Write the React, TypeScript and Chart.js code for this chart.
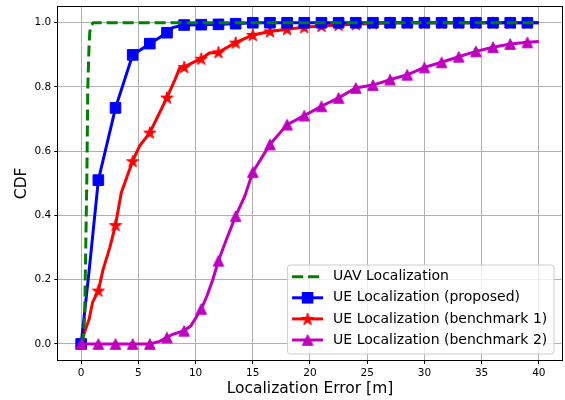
import React, { useEffect, useRef } from 'react';
import { Chart, registerables } from 'chart.js';

Chart.register(...registerables);

// ---- data ----
const xTicks = [0, 5, 10, 15, 20, 25, 30, 35, 40];
const yTicks = [0, 0.2, 0.4, 0.6, 0.8, 1.0];

const seriesLabels = [
  'UAV Localization',
  'UE Localization (proposed)',
  'UE Localization (benchmark 1)',
  'UE Localization (benchmark 2)',
];

const uavX = [0, 0.15, 0.3, 0.4, 0.5, 0.58, 0.68, 0.75, 0.85, 1.05, 40];
const uavY = [0, 0.01, 0.08, 0.3, 0.53, 0.8, 0.92, 0.97, 0.99, 1, 1];

const propX = [0, 0.7, 1.5, 3, 4.5, 6, 7.5, 8, 9, 10.5, 12, 13.5, 15, 16.5, 18, 19.5, 21, 22.5, 24, 25.5, 27, 28.5, 30, 31.5, 33, 34.5, 36, 37.5, 39, 40];
const propY = [0, 0.23, 0.51, 0.735, 0.9, 0.935, 0.969, 0.985, 0.993, 0.994, 0.995, 0.997, 1, 1, 1, 1, 1, 1, 1, 1, 1, 1, 1, 1, 1, 1, 1, 1, 1, 1];

const bench1X = [0, 0.3, 0.7, 1.0, 1.5, 1.9, 2.5, 3.0, 3.5, 4.2, 4.5, 5.1, 6.0, 6.7, 7.5, 8.2, 8.6, 9.0, 9.7, 10.5, 11.2, 12, 13.5, 15, 16.5, 18, 19.5, 21, 22.5, 24, 25.5, 27, 28.5, 30, 31.5, 33, 34.5, 36, 37.5, 39, 40];
const bench1Y = [0, 0.037, 0.078, 0.13, 0.166, 0.23, 0.30, 0.37, 0.47, 0.54, 0.569, 0.616, 0.658, 0.709, 0.767, 0.823, 0.858, 0.862, 0.875, 0.888, 0.906, 0.908, 0.938, 0.962, 0.973, 0.98, 0.986, 0.99, 0.993, 0.995, 0.998, 1, 1, 1, 1, 1, 1, 1, 1, 1, 1];

const bench2X = [0, 1.5, 3, 4.5, 6, 6.85, 7.5, 8, 9, 9.6, 10.5, 11, 11.5, 12, 12.7, 13.5, 14.3, 15, 16.5, 18, 19.5, 21, 22.5, 24, 25.5, 27, 28.5, 30, 31.5, 33, 34.5, 36, 37.5, 39, 40];
const bench2Y = [0, 0, 0, 0, 0, 0.008, 0.02, 0.03, 0.041, 0.057, 0.109, 0.15, 0.2, 0.259, 0.326, 0.398, 0.46, 0.535, 0.621, 0.683, 0.711, 0.74, 0.766, 0.797, 0.806, 0.823, 0.838, 0.861, 0.877, 0.894, 0.911, 0.924, 0.934, 0.939, 0.942];

// ---- styles ----
const MARK_STEP = 1.5;
const FONT = 'DejaVu Sans';
const GREEN = '#008000';
const BLUE = '#0000ff';
const RED = '#ff0000';
const MAGENTA = '#bf00bf';
const GRID = '#b0b0b0';

const isMark = (x: number) => {
  const q = x / MARK_STEP;
  return Math.abs(q - Math.round(q)) < 1e-6;
};

function makeStar(color: string, R: number) {
  const size = 16;
  const c = document.createElement('canvas');
  c.width = size;
  c.height = size;
  const g = c.getContext('2d')!;
  const cx = size / 2, cy = size / 2 + 0.5;
  const r = R * 0.381966;
  g.beginPath();
  for (let i = 0; i < 10; i++) {
    const ang = -Math.PI / 2 + (i * Math.PI) / 5;
    const rad = i % 2 === 0 ? R : r;
    g.lineTo(cx + rad * Math.cos(ang), cy + rad * Math.sin(ang));
  }
  g.closePath();
  g.fillStyle = color;
  g.fill();
  g.strokeStyle = color;
  g.lineWidth = 1;
  g.stroke();
  return c;
}

function makeTriangle(color: string, half: number) {
  const size = 14;
  const c = document.createElement('canvas');
  c.width = size;
  c.height = size;
  const g = c.getContext('2d')!;
  const cx = size / 2, cy = size / 2;
  g.beginPath();
  g.moveTo(cx, cy - half);
  g.lineTo(cx - half, cy + half);
  g.lineTo(cx + half, cy + half);
  g.closePath();
  g.fillStyle = color;
  g.fill();
  g.strokeStyle = color;
  g.lineWidth = 1;
  g.stroke();
  return c;
}

const pts = (xs: number[], ys: number[]) => xs.map((x, i) => ({ x, y: ys[i] }));

const zeroPad = (s: any) => {
  s.paddingLeft = 0;
  s.paddingRight = 0;
  s.paddingTop = 0;
  s.paddingBottom = 0;
};

export default function App() {
  const ref = useRef<HTMLCanvasElement | null>(null);

  useEffect(() => {
    const canvas = ref.current;
    if (!canvas) return;
    const star = makeStar(RED, 6.5);
    const tri = makeTriangle(MAGENTA, 5.3);
    const SQ_R = 7.5;

    const legendPlugin = {
      id: 'mplLegend',
      afterDraw(chart: any) {
        const ctx = chart.ctx as CanvasRenderingContext2D;
        const ca = chart.chartArea;
        ctx.save();
        ctx.font = `14px "${FONT}"`;
        let maxW = 0;
        seriesLabels.forEach((t) => (maxW = Math.max(maxW, ctx.measureText(t).width)));
        const w = 45.7 + maxW + 6.7;
        const h = 89;
        const right = ca.right - 7.7;
        const bottom = ca.bottom - 6;
        const left = right - w;
        const top = bottom - h;
        const rr = 3;
        ctx.beginPath();
        ctx.moveTo(left + rr, top);
        ctx.lineTo(right - rr, top);
        ctx.arcTo(right, top, right, top + rr, rr);
        ctx.lineTo(right, bottom - rr);
        ctx.arcTo(right, bottom, right - rr, bottom, rr);
        ctx.lineTo(left + rr, bottom);
        ctx.arcTo(left, bottom, left, bottom - rr, rr);
        ctx.lineTo(left, top + rr);
        ctx.arcTo(left, top, left + rr, top, rr);
        ctx.closePath();
        ctx.fillStyle = 'rgba(255,255,255,0.8)';
        ctx.fill();
        ctx.strokeStyle = '#cccccc';
        ctx.lineWidth = 1;
        ctx.stroke();

        const colors = [GREEN, BLUE, RED, MAGENTA];
        seriesLabels.forEach((t, i) => {
          const y = top + 11.7 + i * 21.1;
          const x0 = left + 4.7;
          const x1 = left + 35.7;
          const xm = (x0 + x1) / 2;
          ctx.beginPath();
          ctx.strokeStyle = colors[i];
          ctx.lineWidth = 3;
          ctx.setLineDash(i === 0 ? [11, 5] : []);
          ctx.moveTo(x0, y);
          ctx.lineTo(x1, y);
          ctx.stroke();
          ctx.setLineDash([]);
          if (i === 1) {
            const s = SQ_R * Math.SQRT1_2;
            ctx.fillStyle = BLUE;
            ctx.fillRect(xm - s - 0.5, y - s - 0.5, 2 * s + 1, 2 * s + 1);
          } else if (i === 2) {
            ctx.drawImage(star, xm - star.width / 2, y - star.height / 2);
          } else if (i === 3) {
            ctx.drawImage(tri, xm - tri.width / 2, y - tri.height / 2);
          }
          ctx.fillStyle = '#000';
          ctx.textBaseline = 'middle';
          ctx.textAlign = 'left';
          ctx.fillText(t, left + 45.7, y);
        });
        ctx.restore();
      },
      afterDatasetsDraw(chart: any) {
        const ctx = chart.ctx as CanvasRenderingContext2D;
        const ca = chart.chartArea;
        ctx.save();
        ctx.strokeStyle = '#000';
        ctx.lineWidth = 1;
        const l = Math.round(ca.left) - 0.5;
        const t = Math.round(ca.top) - 0.5;
        const r = Math.round(ca.right) + 0.5;
        const b = Math.round(ca.bottom) + 0.5;
        ctx.strokeRect(l, t, r - l, b - t);
        ctx.restore();
      },
    };

    const chart = new Chart(canvas, {
      type: 'line',
      data: {
        datasets: [
          {
            label: seriesLabels[0],
            data: pts(uavX, uavY),
            borderColor: GREEN,
            backgroundColor: GREEN,
            borderWidth: 3,
            borderDash: [11, 5],
            pointRadius: 0,
            tension: 0,
            order: 1,
          },
          {
            label: seriesLabels[1],
            data: pts(propX, propY),
            borderColor: BLUE,
            backgroundColor: BLUE,
            borderWidth: 3,
            pointStyle: 'rect',
            pointRadius: (c: any) => (c.raw && isMark(c.raw.x) ? SQ_R : 0),
            pointBackgroundColor: BLUE,
            pointBorderColor: BLUE,
            pointBorderWidth: 1,
            tension: 0,
            order: 2,
          },
          {
            label: seriesLabels[2],
            data: pts(bench1X, bench1Y),
            borderColor: RED,
            backgroundColor: RED,
            borderWidth: 3,
            pointStyle: star,
            pointRadius: (c: any) => (c.raw && c.raw.x > 0 && isMark(c.raw.x) ? 6 : 0),
            tension: 0,
            order: 3,
          },
          {
            label: seriesLabels[3],
            data: pts(bench2X, bench2Y),
            borderColor: MAGENTA,
            backgroundColor: MAGENTA,
            borderWidth: 3,
            pointStyle: tri,
            pointRadius: (c: any) => (c.raw && isMark(c.raw.x) ? 6 : 0),
            tension: 0,
            order: 0,
          },
        ] as any,
      },
      options: {
        animation: false,
        responsive: false,
        devicePixelRatio: 1,
        events: [],
        layout: { padding: { top: 6.7, right: 3.3, left: 0, bottom: 0 }, autoPadding: false },
        plugins: {
          legend: { display: false },
          tooltip: { enabled: false },
        },
        scales: {
          x: {
            type: 'linear',
            min: -2,
            max: 42,
            afterBuildTicks: (s: any) => {
              s.ticks = xTicks.map((v) => ({ value: v }));
            },
            afterFit: (s: any) => {
              s.height = 40;
              zeroPad(s);
            },
            border: { display: false },
            grid: {
              color: GRID,
              lineWidth: 1,
              tickColor: '#000',
              tickLength: 4,
              tickWidth: 1,
            },
            ticks: {
              color: '#000',
              font: { family: FONT, size: 10.5 },
              padding: 3,
              maxRotation: 0,
              autoSkip: false,
              callback: (v: any) => String(v),
            },
            title: {
              display: true,
              text: 'Localization Error [m]',
              color: '#000',
              font: { family: FONT, size: 15.5 },
              padding: { top: 0, bottom: 2.2 },
            },
          },
          y: {
            type: 'linear',
            min: -0.05,
            max: 1.05,
            afterBuildTicks: (s: any) => {
              s.ticks = yTicks.map((v) => ({ value: v }));
            },
            afterFit: (s: any) => {
              s.width = 58.3;
              zeroPad(s);
            },
            border: { display: false },
            grid: {
              color: GRID,
              lineWidth: 1,
              tickColor: '#000',
              tickLength: 4,
              tickWidth: 1,
            },
            ticks: {
              color: '#000',
              font: { family: FONT, size: 10.5 },
              padding: 3,
              autoSkip: false,
              callback: (v: any) => Number(v).toFixed(1),
            },
            title: {
              display: true,
              text: 'CDF',
              color: '#000',
              font: { family: FONT, size: 15.5 },
              padding: { top: 13, bottom: 0 },
            },
          },
        },
      } as any,
      plugins: [legendPlugin],
    });
    return () => chart.destroy();
  }, []);

  return (
    <div style={{ position: 'absolute', left: 0, top: 0, width: 565, height: 400, background: '#fff' }}>
      <canvas ref={ref} width={565} height={400} />
    </div>
  );
}
